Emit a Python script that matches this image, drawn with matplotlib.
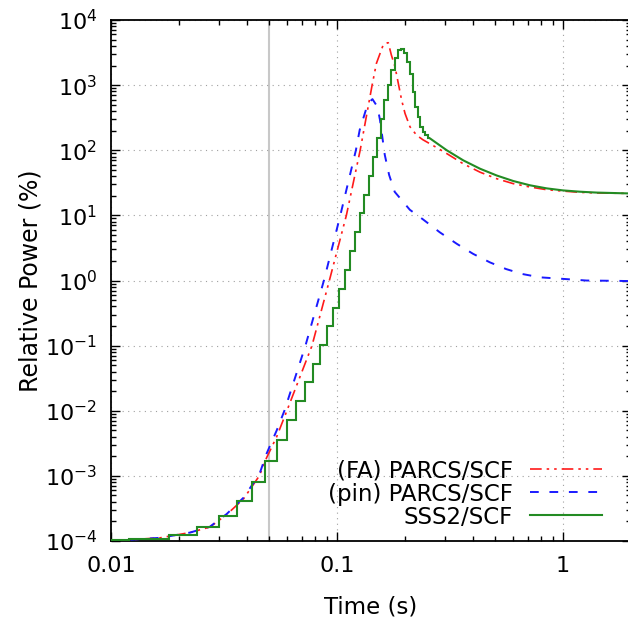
import numpy as np
import matplotlib.pyplot as plt
from matplotlib.ticker import LogLocator, NullFormatter, FixedLocator, FixedFormatter

plt.rcParams['font.family'] = ['DejaVu Sans']
plt.rcParams['axes.unicode_minus'] = False

# (FA) PARCS/SCF
fa_t = [0.010, 0.0165, 0.0224, 0.0274, 0.0325, 0.0385, 0.0453, 0.0488, 0.0541,
        0.0600, 0.0775, 0.0925, 0.110, 0.1266, 0.143, 0.1494, 0.160, 0.165,
        0.1686, 0.174, 0.1806, 0.1868, 0.1932, 0.200, 0.2104, 0.2252, 0.240,
        0.276, 0.306, 0.362, 0.43, 0.509, 0.603, 0.714, 0.847, 1.0, 1.19, 1.41,
        1.91, 2.0]
fa_p = [1.00e-4, 1.12e-4, 1.35e-4, 1.64e-4, 2.55e-4, 4.4e-4, 1.0e-3, 1.9e-3, 4.0e-3,
        1.0e-2, 0.1, 1.0, 10, 100, 1000, 2160, 4120, 4450,
        4480, 2900, 1915, 1060, 589, 367, 229, 170, 145,
        110, 89, 62, 46, 36.6, 30.7, 27.3, 24.8, 23.6, 22.6, 22.1,
        21.8, 21.7]

# (pin) PARCS/SCF
pin_t = [0.010, 0.0165, 0.0224, 0.0274, 0.0325, 0.0385, 0.0453, 0.0488, 0.0541,
         0.0585, 0.0725, 0.0875, 0.1034, 0.1212, 0.126, 0.137, 0.1435, 0.151,
         0.155, 0.1627, 0.170, 0.180, 0.210, 0.240, 0.285, 0.339, 0.400, 0.475,
         0.560, 0.660, 0.790, 1.0, 1.27, 1.67, 2.0]
pin_p = [1.00e-4, 1.12e-4, 1.35e-4, 1.66e-4, 2.6e-4, 4.6e-4, 1.05e-3, 2.2e-3, 5.0e-3,
         1.0e-2, 0.1, 1.0, 10, 100, 205, 525, 610, 464,
         290, 85, 42, 23, 12.2, 8.7, 5.5, 3.66, 2.57, 1.9,
         1.5, 1.26, 1.12, 1.06, 1.0, 0.99, 0.98]

# SSS2/SCF: time-binned tallies up to 0.258 s, then a smooth tail
sss_edges = [0.006, 0.012, 0.018, 0.024, 0.030, 0.036, 0.042, 0.048, 0.054, 0.060,
             0.066, 0.072, 0.078, 0.084, 0.090, 0.096, 0.102, 0.108, 0.114, 0.120,
             0.126, 0.132, 0.138, 0.144, 0.150, 0.156, 0.162, 0.168, 0.174, 0.180,
             0.186, 0.192, 0.198, 0.204, 0.210, 0.216, 0.222, 0.228, 0.234, 0.240,
             0.246, 0.252, 0.258]
sss_bins = [1.02e-4, 1.07e-4, 1.25e-4, 1.64e-4, 2.45e-4, 4.1e-4, 8.0e-4, 1.7e-3, 3.55e-3,
            7.2e-3, 1.39e-2, 2.73e-2, 5.28e-2, 0.1025, 0.198, 0.385, 0.745, 1.46, 2.83,
            5.53, 10.7, 20.8, 40, 79, 157, 300, 587, 1000, 1700, 2580, 3450, 3600,
            3100, 2300, 1500, 790, 460, 325, 230, 190, 170, 157]
sss_tail_t = [0.258, 0.306, 0.362, 0.43, 0.509, 0.603, 0.714, 0.847, 1.0, 1.19, 1.41, 1.91, 2.0]
sss_tail_p = [152, 100, 70, 52, 41, 33.7, 29, 26, 24.2, 23.1, 22.4, 21.8, 21.7]

x_ticks = [0.01, 0.1, 1]
x_labels = ['0.01', '0.1', '1']
y_exponents = [-4, -3, -2, -1, 0, 1, 2, 3, 4]
marker_time = 0.05

fig = plt.figure(figsize=(6.28, 6.22), dpi=100)
ax = fig.add_axes([0.1768, 0.1302, 0.828, 0.8376])

ax.axvline(marker_time, color='#c8c8c8', lw=1.5, zorder=1)

ax.plot(fa_t, fa_p, color='#ff1a1a', lw=1.2,
        linestyle=(0, (7, 3, 1.5, 3, 1.5, 3)), label='(FA) PARCS/SCF', zorder=3)
ax.plot(pin_t, pin_p, color='#1a1aff', lw=1.4,
        linestyle=(0, (4.5, 5.5)), label='(pin) PARCS/SCF', zorder=3)
ax.stairs(sss_bins, sss_edges, color='#238b23', lw=1.5, baseline=None, zorder=4)
ax.plot(sss_tail_t, sss_tail_p, color='#238b23', lw=1.5, label='SSS2/SCF', zorder=4)

ax.set_xscale('log')
ax.set_yscale('log')
ax.set_xlim(0.01, 2.0)
ax.set_ylim(1e-4, 1e4)

ax.xaxis.set_major_locator(FixedLocator(x_ticks))
ax.xaxis.set_major_formatter(FixedFormatter(x_labels))
ax.xaxis.set_minor_locator(LogLocator(base=10, subs=np.arange(2, 10)))
ax.xaxis.set_minor_formatter(NullFormatter())
ax.yaxis.set_major_locator(FixedLocator([10.0 ** e for e in y_exponents]))
ax.yaxis.set_major_formatter(FixedFormatter(['$\\mathdefault{10^{%d}}$' % e for e in y_exponents]))
ax.yaxis.set_minor_locator(LogLocator(base=10, subs=np.arange(2, 10), numticks=20))
ax.yaxis.set_minor_formatter(NullFormatter())

ax.tick_params(which='both', direction='in', top=True, right=True, width=1.0, color='black')
ax.tick_params(which='major', length=6.5)
ax.tick_params(which='minor', length=3.5)
ax.tick_params(axis='x', which='major', pad=11, labelsize=16)
ax.tick_params(axis='y', which='major', pad=10, labelsize=16)

for s in ax.spines.values():
    s.set_linewidth(1.3)

ax.grid(True, which='major', color='#a0a0a0', lw=0.8, linestyle=(0, (1, 4)))

ax.set_xlabel('Time (s)', fontsize=16.5)
ax.set_ylabel('Relative Power (%)', fontsize=17)
ax.xaxis.set_label_coords(0.5, -0.104)
ax.yaxis.set_label_coords(-0.131, 0.5)

ax.legend(loc='lower right', bbox_to_anchor=(0.944, 0.024), frameon=False,
          markerfirst=False, fontsize=16.5, handlelength=3.15, handletextpad=0.74,
          labelspacing=0.0, borderpad=0, borderaxespad=0)

fig.savefig('out.png', dpi=100)
